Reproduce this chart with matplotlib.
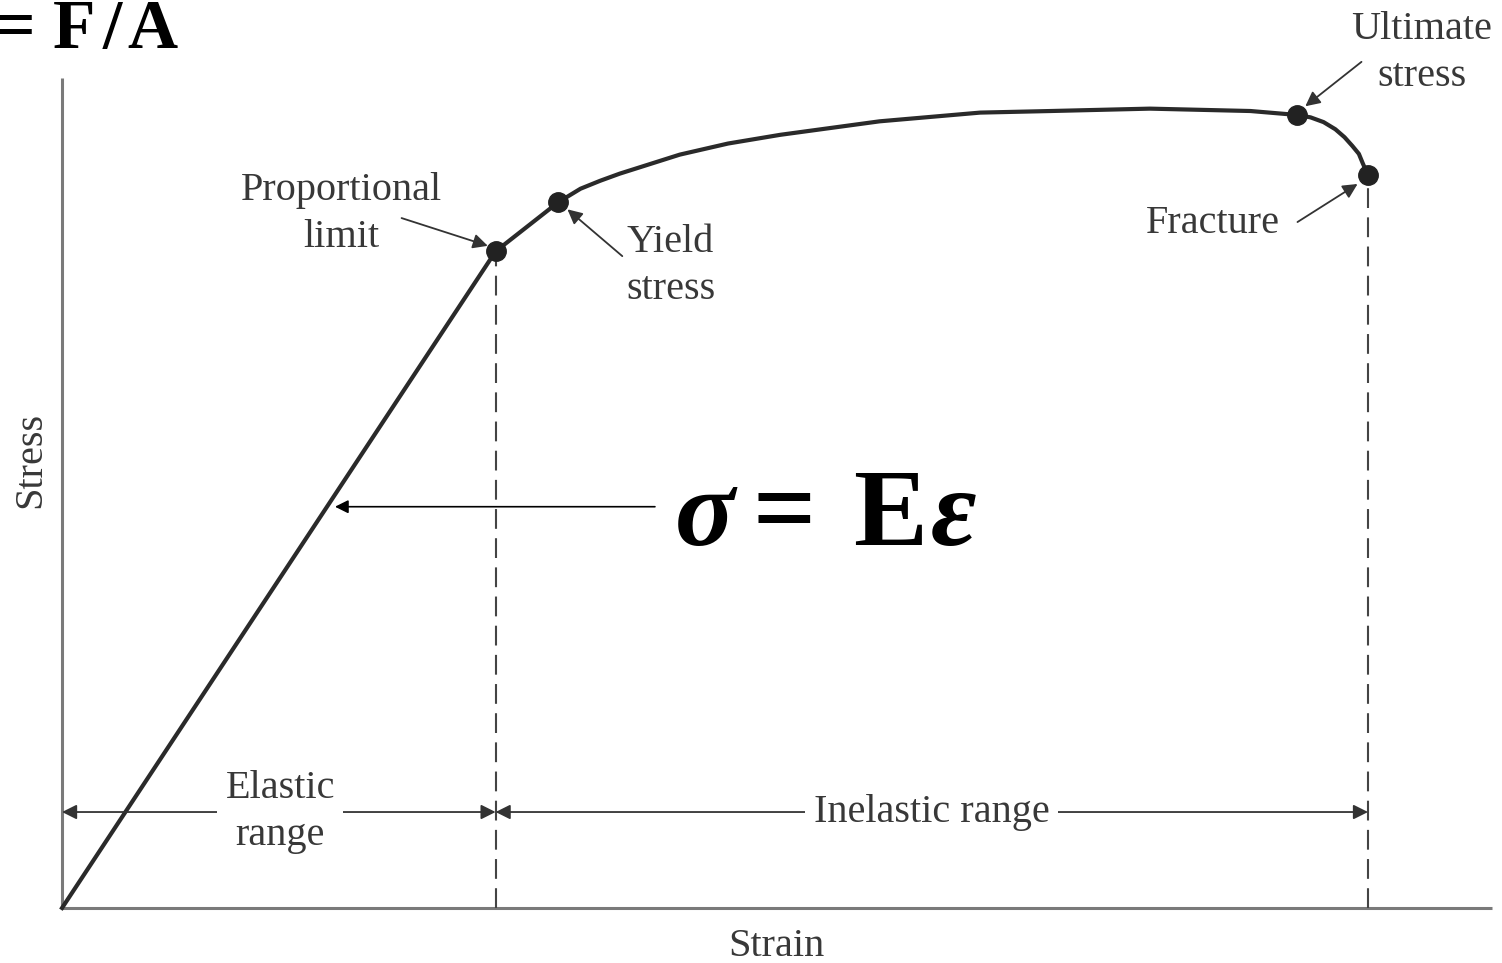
import matplotlib
matplotlib.use('Agg')
import matplotlib.pyplot as plt
import numpy as np

plt.rcParams['font.family'] = ['Liberation Serif', 'DejaVu Serif']

## curve (arbitrary units: fracture strain = 100, ultimate stress = 100)
strain = [0, 33.2, 38.0, 39.7, 41.2, 42.7, 47.3, 51.0, 55.0, 62.6, 70.3, 75.7, 83.3, 91.0,
          94.6, 95.6, 96.6, 97.5, 98.2, 98.8, 99.3, 99.6, 100.0]
stress = [0, 82.8, 89.0, 90.7, 91.7, 92.6, 95.0, 96.4, 97.5, 99.2, 100.3, 100.5, 100.8, 100.5,
          100.0, 99.7, 99.1, 98.2, 97.2, 96.1, 95.1, 93.9, 92.4]

# marked points: proportional limit, yield, ultimate, fracture
point_strain = [33.2, 38.0, 94.6, 100.0]
point_stress = [82.8, 89.0, 100.0, 92.4]
point_labels = ['Proportional\nlimit', 'Yield\nstress', 'Ultimate\nstress', 'Fracture']
label_pos = [(21.4, 87.5), (46.6, 81.0), (104.1, 107.8), (88.1, 86.3)]
arrow_tail = [(26.0, 87.0), (42.9, 82.2), (99.5, 106.7), (94.6, 86.5)]
arrow_head = [(32.6, 83.5), (38.7, 88.1), (95.2, 101.1), (99.2, 91.3)]

range_level = 12.1
ranges = [(0, 33.2, 'Elastic\nrange', 16.7), (33.2, 100.0, 'Inelastic range', 66.6)]

text_col = '#383838'
line_col = '#2a2a2a'

fig = plt.figure(figsize=(15.02, 9.63), dpi=100)
ax = fig.add_axes([0, 0, 1, 1])
ax.set_xlim(-4.75, 110.26)
ax.set_ylim(-6.94, 114.5)
ax.axis('off')

# axes of the diagram
ax.plot([0, 0], [0, 104.7], color='#7a7a7a', lw=2.2, solid_capstyle='butt')
ax.plot([0, 109.5], [0, 0], color='#7a7a7a', lw=2.2, solid_capstyle='butt')

# dashed limits
for xs, ys in [(33.2, 82.8), (100.0, 92.4)]:
    ax.plot([xs, xs], [0, ys], color='#444444', lw=1.5, dashes=(9.5, 4.5))

# stress-strain curve
ax.plot(strain, stress, color=line_col, lw=3.0, solid_joinstyle='round')
ax.plot(point_strain, point_stress, 'o', color='#222222', ms=14, zorder=5)

# labels with arrows
for lab, (tx, ty), tail, head in zip(point_labels, label_pos, arrow_tail, arrow_head):
    ax.text(tx, ty, lab, ha='center', va='center', fontsize=29, color=text_col,
            linespacing=1.35)
    ax.annotate('', xy=head, xytext=tail,
                arrowprops=dict(arrowstyle='-|>', color='#333333', lw=1.3,
                                mutation_scale=22, shrinkA=0, shrinkB=0))

# elastic / inelastic ranges
for x0, x1, lab, tx in ranges:
    ax.annotate('', xy=(x1, range_level), xytext=(x0, range_level),
                arrowprops=dict(arrowstyle='<|-|>', color='#333333', lw=1.3,
                                mutation_scale=22, shrinkA=0, shrinkB=0))
    ax.text(tx, range_level, lab, ha='center', va='center', fontsize=29,
            color=text_col, linespacing=1.35,
            bbox=dict(facecolor='white', edgecolor='none', pad=6))

ax.text(-2.4, 56.5, 'Stress', rotation=90, ha='center', va='center',
        fontsize=29, color=text_col)
ax.text(54.7, -4.9, 'Strain', ha='center', va='center', fontsize=29, color=text_col)

# Hooke's law
ax.annotate('', xy=(20.9, 50.6), xytext=(45.4, 50.6),
            arrowprops=dict(arrowstyle='-|>', color='black', lw=1.2,
                            mutation_scale=20, shrinkA=0, shrinkB=0))
big = dict(va='baseline', ha='left', fontsize=80, fontweight='bold', color='black')
ax.text(46.9, 45.8, 'σ', fontstyle='italic', **big)
ax.text(52.9, 45.8, '=', **big)
ax.text(60.6, 45.8, 'E', **big)
ax.text(66.5, 45.8, 'ε', fontstyle='italic', **big)

# F/A at the top-left corner, partly cut by the frame
small = dict(va='baseline', ha='left', fontsize=50, fontweight='bold', color='black')
ax.text(-5.1, 108.4, '=', **small)
ax.text(-0.7, 108.4, 'F', **small)
ax.text(3.1, 108.4, '/', **small)
ax.text(5.0, 108.4, 'A', **small)

fig.savefig('out.png', dpi=100)
